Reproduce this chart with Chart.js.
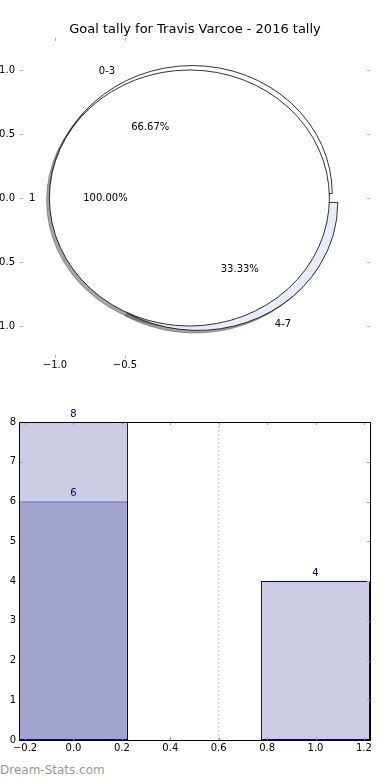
<!DOCTYPE html>
<html><head><meta charset="utf-8">
<script src="https://cdn.jsdelivr.net/npm/chart.js@4.4.0/dist/chart.umd.min.js"></script>
<style>
html,body{margin:0;padding:0;background:#fff;overflow:hidden;width:390px;height:780px;}
#top{position:absolute;left:-9px;top:0;width:408px;height:383px;}
#bot{position:absolute;left:0;top:395px;width:390px;height:365px;}
#wm{position:absolute;left:0;top:764px;font:12px/12px 'DejaVu Sans';color:#999;white-space:nowrap;}
</style></head><body>
<div id="top"><canvas id="c1" width="408" height="383"></canvas></div>
<div id="bot"><canvas id="c2" width="390" height="365"></canvas></div>
<div id="wm">Dream-Stats.com</div>
<script>
// ---- data ----
const chartTitle = 'Goal tally for Travis Varcoe - 2016 tally';
const outerLabels = ['0-3', '4-7'];
const outerValues = [8, 4];
const outerColors = ['#ffffff', '#e6ecfa'];
const innerLabels = ['1'];
const innerValues = [6];
const innerColors = ['#ffffff'];
const pieXTicks = [-1.0, -0.5];
const pieYTicks = [-1.0, -0.5, 0.0, 0.5, 1.0];

const barX = [0, 1];
const totalBars = [8, 4];
const subsetX = [0];
const subsetBars = [6];
const dividerX = [0.6];
const barXTicks = [-0.2, 0.0, 0.2, 0.4, 0.6, 0.8, 1.0, 1.2];
const barYTicks = [0, 1, 2, 3, 4, 5, 6, 7, 8];

// ---- style / geometry settings ----
const FONT = 'DejaVu Sans';
const RADIUS = 1.0, EXPLODE = 0.04, SHADOW = 0.02, LABEL_D = 1.1, PCT_D = 0.6;
Chart.defaults.font.family = FONT;
Chart.defaults.color = '#000';

function fmt(v, d) { const s = Math.abs(v).toFixed(d); return (v < -1e-9 ? '\u2212' : '') + s; }

const innerTicks = {
  id: 'innerTicks',
  afterDatasetsDraw(chart, args, opts) {
    const ctx = chart.ctx, a = chart.chartArea;
    const xs = chart.scales[opts.x], ys = chart.scales[opts.y];
    ctx.save();
    ctx.strokeStyle = opts.color; ctx.lineWidth = 1;
    ctx.beginPath();
    xs.ticks.forEach(t => {
      const p = Math.round(xs.getPixelForValue(t.value)) + 0.5;
      ctx.moveTo(p, a.top); ctx.lineTo(p, a.top + opts.len);
      ctx.moveTo(p, a.bottom); ctx.lineTo(p, a.bottom - opts.len);
    });
    ys.ticks.forEach(t => {
      const p = Math.round(ys.getPixelForValue(t.value)) + 0.5;
      ctx.moveTo(a.left, p); ctx.lineTo(a.left + opts.len, p);
      ctx.moveTo(a.right, p); ctx.lineTo(a.right - opts.len, p);
    });
    ctx.stroke();
    if (opts.frame) {
      ctx.strokeStyle = '#000';
      ctx.strokeRect(Math.round(a.left) + 0.5, Math.round(a.top) + 0.5,
        Math.round(a.right) - Math.round(a.left), Math.round(a.bottom) - Math.round(a.top));
    }
    ctx.restore();
  }
};

const piePlugin = {
  id: 'pies',
  afterDatasetsDraw(chart) {
    const ctx = chart.ctx, x = chart.scales.x, y = chart.scales.y;
    const px = v => x.getPixelForValue(v), py = v => y.getPixelForValue(v);
    const rx = Math.abs(px(1) - px(0)) * RADIUS, ry = Math.abs(py(1) - py(0)) * RADIUS;
    const pies = [
      {values: outerValues, labels: outerLabels, colors: outerColors},
      {values: innerValues, labels: innerLabels, colors: innerColors}
    ];
    const wedges = [];
    pies.forEach(p => {
      const total = p.values.reduce((s, v) => s + v, 0);
      let t = 0;
      p.values.forEach((v, i) => {
        const f = v / total;
        const a1 = t * 2 * Math.PI, a2 = (t + f) * 2 * Math.PI, mid = (a1 + a2) / 2;
        wedges.push({cx: EXPLODE * Math.cos(mid), cy: EXPLODE * Math.sin(mid), a1, a2, mid,
          full: f > 0.999999, color: p.colors[i], label: p.labels[i], pct: (f * 100).toFixed(2) + '%'});
        t += f;
      });
    });
    function path(w, dx, dy) {
      const cxp = px(w.cx + dx), cyp = py(w.cy + dy);
      ctx.beginPath();
      if (w.full) ctx.ellipse(cxp, cyp, rx, ry, 0, 0, 2 * Math.PI);
      else { ctx.moveTo(cxp, cyp); ctx.ellipse(cxp, cyp, rx, ry, 0, -w.a1, -w.a2, true); ctx.closePath(); }
    }
    ctx.save();
    wedges.forEach(w => {
      path(w, -SHADOW, -SHADOW);
      ctx.fillStyle = 'rgba(77,77,77,0.5)'; ctx.fill();
      ctx.strokeStyle = 'rgba(77,77,77,0.5)'; ctx.lineWidth = 1; ctx.stroke();
    });
    wedges.forEach(w => {
      path(w, 0, 0);
      ctx.fillStyle = w.color; ctx.fill();
      ctx.strokeStyle = '#000'; ctx.lineWidth = 0.8; ctx.stroke();
    });
    ctx.font = '10px ' + FONT; ctx.fillStyle = '#000'; ctx.textBaseline = 'middle';
    wedges.forEach(w => {
      const lx = w.cx + LABEL_D * Math.cos(w.mid), ly = w.cy + LABEL_D * Math.sin(w.mid);
      ctx.textAlign = lx > 0 ? 'left' : 'right';
      ctx.fillText(w.label, px(lx), py(ly));
      const qx = w.cx + PCT_D * Math.cos(w.mid), qy = w.cy + PCT_D * Math.sin(w.mid);
      ctx.textAlign = 'center';
      ctx.fillText(w.pct, px(qx), py(qy));
    });
    ctx.restore();
  }
};

const noGrid = { display: false, drawTicks: false, offset: false };

new Chart(document.getElementById('c1'), {
  type: 'scatter',
  data: { datasets: [] },
  options: {
    responsive: false, animation: false, devicePixelRatio: 1,
    layout: { padding: 0 },
    plugins: {
      legend: { display: false }, tooltip: { enabled: false },
      title: { display: true, text: chartTitle, color: '#000',
        font: { size: 13, weight: 'normal', family: FONT }, padding: { top: 22.2, bottom: 0.2 } },
      innerTicks: { x: 'x', y: 'y', len: 3, color: '#b0b0b0', frame: false }
    },
    scales: {
      x: { type: 'linear', position: 'bottom', min: -1.25, max: 1.25, offset: false,
        grid: noGrid, border: { display: false },
        afterBuildTicks: ax => { ax.ticks = pieXTicks.map(v => ({value: v})); },
        afterFit: ax => { ax.height = 25; },
        ticks: { font: { size: 10 }, padding: 1, autoSkip: false, maxRotation: 0, callback: v => fmt(v, 1) } },
      y: { type: 'linear', position: 'left', min: -1.25, max: 1.25,
        grid: noGrid, border: { display: false },
        afterBuildTicks: ax => { ax.ticks = pieYTicks.map(v => ({value: v})); },
        afterFit: ax => { ax.width = 29; },
        ticks: { font: { size: 10 }, padding: 5, autoSkip: false, callback: v => fmt(v, 1) } },
      y2: { type: 'linear', position: 'right', min: -1.25, max: 1.25,
        grid: noGrid, border: { display: false },
        ticks: { display: false },
        afterFit: ax => { ax.width = 29; } }
    }
  },
  plugins: [piePlugin, innerTicks]
});

const barLabels = {
  id: 'barLabels',
  afterDatasetsDraw(chart) {
    const ctx = chart.ctx;
    ctx.save();
    ctx.font = '10px ' + FONT; ctx.fillStyle = '#00008b';
    ctx.textAlign = 'center'; ctx.textBaseline = 'bottom';
    chart.data.datasets.forEach((ds, di) => {
      if (ds.type === 'line') return;
      chart.getDatasetMeta(di).data.forEach((el, i) => {
        ctx.fillText(String(ds.data[i].y), el.x, el.y - 3);
      });
    });
    ctx.restore();
  }
};

new Chart(document.getElementById('c2'), {
  type: 'bar',
  data: {
    datasets: [
      { label: 'subset', xAxisID: 'xb', yAxisID: 'y',
        data: subsetX.map((v, i) => ({x: v, y: subsetBars[i]})),
        backgroundColor: '#a3a5d1', borderColor: '#000080', borderWidth: 1, borderSkipped: false,
        grouped: false, barPercentage: 0.45, categoryPercentage: 1 },
      { label: 'total', xAxisID: 'xb', yAxisID: 'y',
        data: barX.map((v, i) => ({x: v, y: totalBars[i]})),
        backgroundColor: '#cccce4', borderColor: '#000080', borderWidth: 1, borderSkipped: false,
        grouped: false, barPercentage: 0.45, categoryPercentage: 1 },
      { type: 'line', label: 'divider', xAxisID: 'x', yAxisID: 'y',
        data: [{x: dividerX[0], y: barYTicks[0]}, {x: dividerX[0], y: barYTicks[barYTicks.length - 1]}],
        borderColor: '#c0c0c0', borderWidth: 1, borderDash: [2, 2], pointRadius: 0, fill: false }
    ]
  },
  options: {
    responsive: false, animation: false, devicePixelRatio: 1,
    layout: { padding: { top: 27, right: 20, left: 0, bottom: 0 } },
    plugins: {
      legend: { display: false }, tooltip: { enabled: false },
      innerTicks: { x: 'x', y: 'y', len: 3, color: '#a0a0a0', frame: true }
    },
    scales: {
      x: { type: 'linear', position: 'bottom', min: -0.225, max: 1.225, offset: false,
        grid: noGrid, border: { display: false },
        afterBuildTicks: ax => { ax.ticks = barXTicks.map(v => ({value: v})); },
        afterFit: ax => { ax.height = 20; },
        ticks: { font: { size: 10 }, padding: 2, autoSkip: false, maxRotation: 0, callback: v => fmt(v, 1) } },
      xb: { type: 'linear', position: 'bottom', display: true, min: -0.225, max: 1.225, offset: false,
        grid: noGrid, border: { display: false }, ticks: { display: false },
        afterBuildTicks: ax => { ax.ticks = barX.map(v => ({value: v})); },
        afterFit: ax => { ax.height = 0; } },
      y: { type: 'linear', position: 'left', min: 0, max: 8,
        grid: noGrid, border: { display: false },
        afterBuildTicks: ax => { ax.ticks = barYTicks.map(v => ({value: v})); },
        afterFit: ax => { ax.width = 19; },
        ticks: { font: { size: 10 }, padding: 3, autoSkip: false, callback: v => String(v) } }
    }
  },
  plugins: [barLabels, innerTicks]
});
</script>
</body></html>
